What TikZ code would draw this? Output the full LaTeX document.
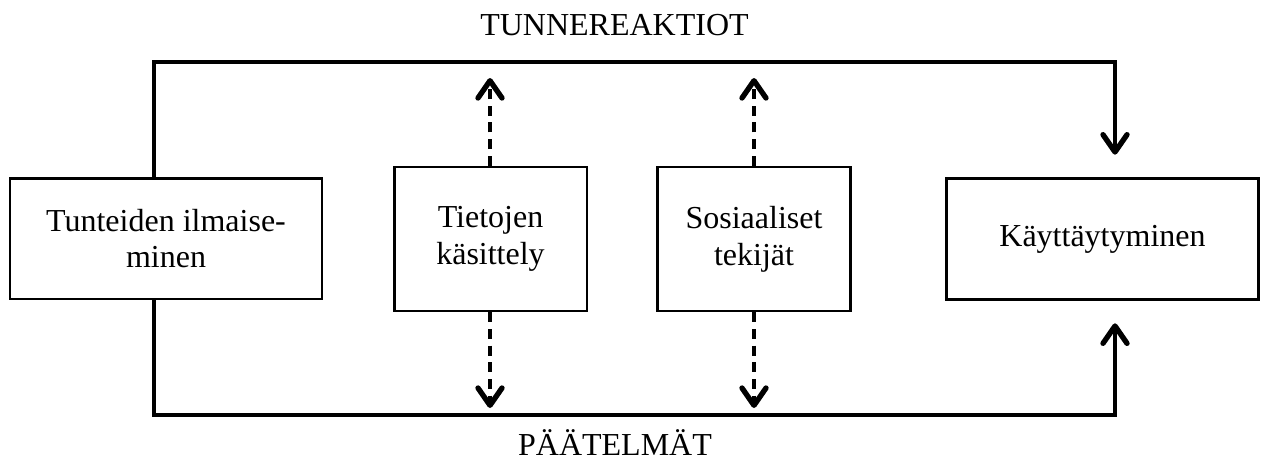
\documentclass[tikz,border=0pt]{standalone}
\usepackage{fontspec}
\setmainfont{Liberation Serif}
\usetikzlibrary{arrows.meta,calc}
\tikzset{
  box/.style={draw, line width=2pt, align=center, inner sep=0pt,
    font=\fontsize{24}{27.6}\selectfont},
  wide/.style={box, minimum width=234pt, minimum height=90.5pt},
  narrow/.style={box, minimum width=144.5pt, minimum height=108pt},
  tip/.style={-{Straight Barb[length=13pt,width=18pt,line width=4pt,round]}},
  flow/.style={line width=2.4pt, tip},
  link/.style={line width=2.4pt, dash pattern=on 7.5pt off 5pt, tip},
  label/.style={font=\fontsize{24}{27.6}\selectfont, inner sep=0pt, anchor=base}
}
\begin{document}
\begin{tikzpicture}[x=0.75pt, y=-0.75pt]
  \useasboundingbox (0,0) rectangle (1264,461);

  % boxes
  \node[wide]   (emo) at (166,238.5)   {Tunteiden ilmaise-\\minen};
  \node[narrow] (info) at (490.5,239)  {Tietojen\\käsittely};
  \node[narrow] (soc) at (754,239)     {Sosiaaliset\\tekijät};
  \node[wide]   (beh) at (1102.5,239)  {Käyttäytyminen};

  % titles of the two routes
  \node[label] (react) at (614.5,35)  {TUNNEREAKTIOT};
  \node[label] (concl) at (615,455) {PÄÄTELMÄT};

  % route corners and dashed arrow ends
  \coordinate (lx) at (154,62);
  \coordinate (rx) at (1115,62);
  \coordinate (top) at (0,62);
  \coordinate (bot) at (0,415);
  \coordinate (info up) at (490,78);
  \coordinate (info down) at (490,408);
  \coordinate (soc up) at (754,78);
  \coordinate (soc down) at (754,408);

  % upper route: emotional reactions
  \draw[flow, shorten >=17pt] (emo.north -| lx) -- (lx |- top) -- (rx |- top) -- (beh.north -| rx);
  % lower route: inferences
  \draw[flow, shorten >=17pt] (emo.south -| lx) -- (lx |- bot) -- (rx |- bot) -- (beh.south -| rx);

  % dashed links
  \draw[link] (info.north -| info up) -- (info up);
  \draw[link] (info.south -| info down) -- (info down);
  \draw[link] (soc.north -| soc up) -- (soc up);
  \draw[link] (soc.south -| soc down) -- (soc down);
\end{tikzpicture}
\end{document}
